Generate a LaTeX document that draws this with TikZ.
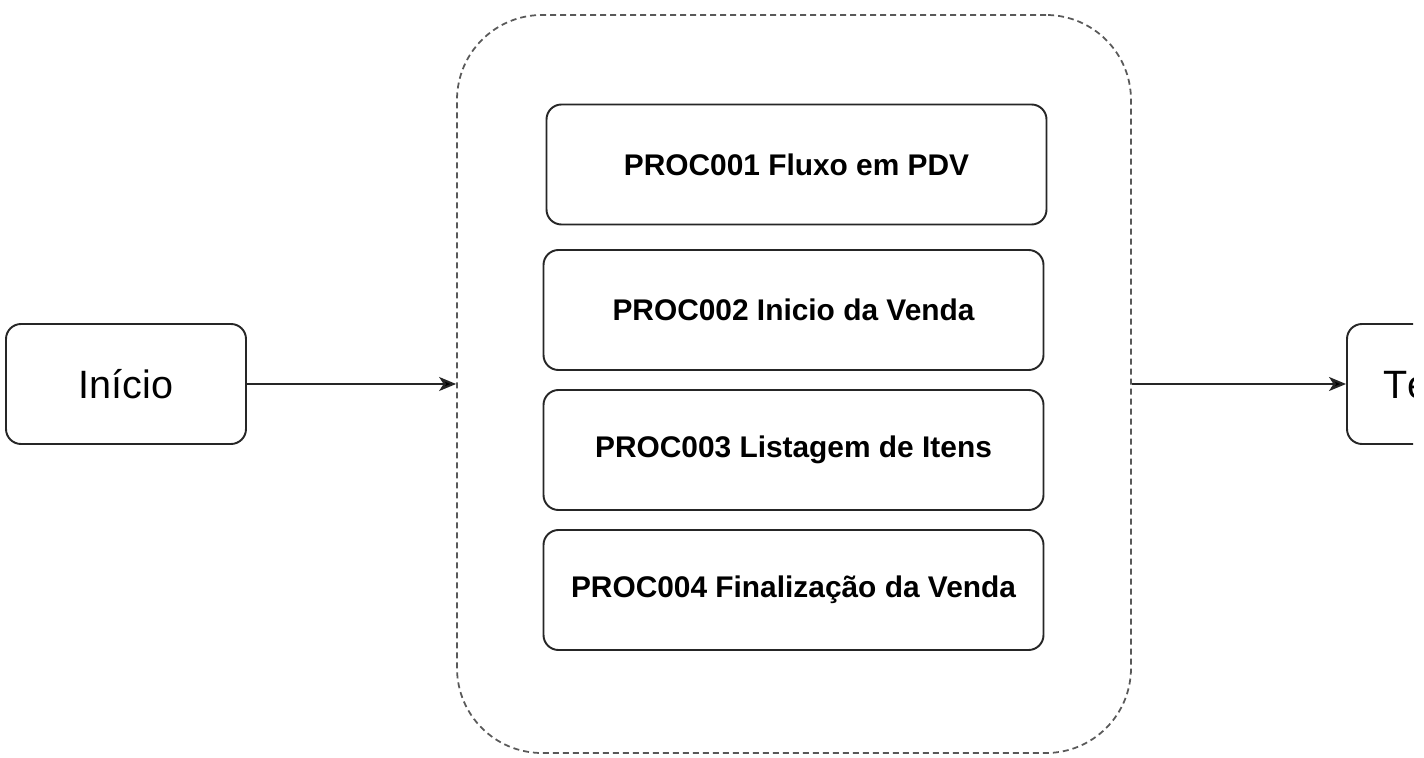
\documentclass[tikz,border=0pt]{standalone}
\usepackage{fontspec}
\setmainfont{Liberation Sans}
\usetikzlibrary{arrows.meta}

\tikzset{
    etapa/.style={shape=rectangle,rounded corners=0.3cm,draw=black!85,line width=1.1pt,
        minimum width=10cm,minimum height=2.4cm,font=\fontsize{17}{20}\selectfont\bfseries},
    terminal/.style={shape=rectangle,rounded corners=0.3cm,draw=black!85,line width=1.1pt,
        minimum width=4.8cm,minimum height=2.4cm,font=\fontsize{22.5}{26}\selectfont},
    grupo/.style={shape=rectangle,rounded corners=1.7cm,draw=black!65,line width=1pt,
        dash pattern=on 0.12cm off 0.08cm,minimum width=13.48cm,minimum height=14.76cm},
    seta/.style={-{Stealth[length=0.34cm,width=0.28cm,inset=0.09cm]},line width=1.2pt,draw=black!85}
}

\begin{document}
\begin{tikzpicture}
        \useasboundingbox (0,0) rectangle (28.48,-15.16);
        \clip (0,0) rectangle (28.26,-15.16);
        \node[terminal] (inicio) at (2.52,-7.68) {Início};
        \node[grupo] (grupo) at (15.88,-7.68) {};
        \node[terminal,minimum width=4.36cm] (termino) at (29.12,-7.68) {Término};
        \node[etapa] (proc1) at (15.93,-3.29) {PROC001 Fluxo em PDV};
        \node[etapa] (proc2) at (15.87,-6.2) {PROC002 Inicio da Venda};
        \node[etapa] (proc3) at (15.87,-9.0) {PROC003 Listagem de Itens};
        \node[etapa] (proc4) at (15.87,-11.8) {PROC004 Finalização da Venda};
        \path [seta] (inicio) edge (grupo);
        \path [seta] (grupo) edge (termino);
    \end{tikzpicture}
\end{document}
